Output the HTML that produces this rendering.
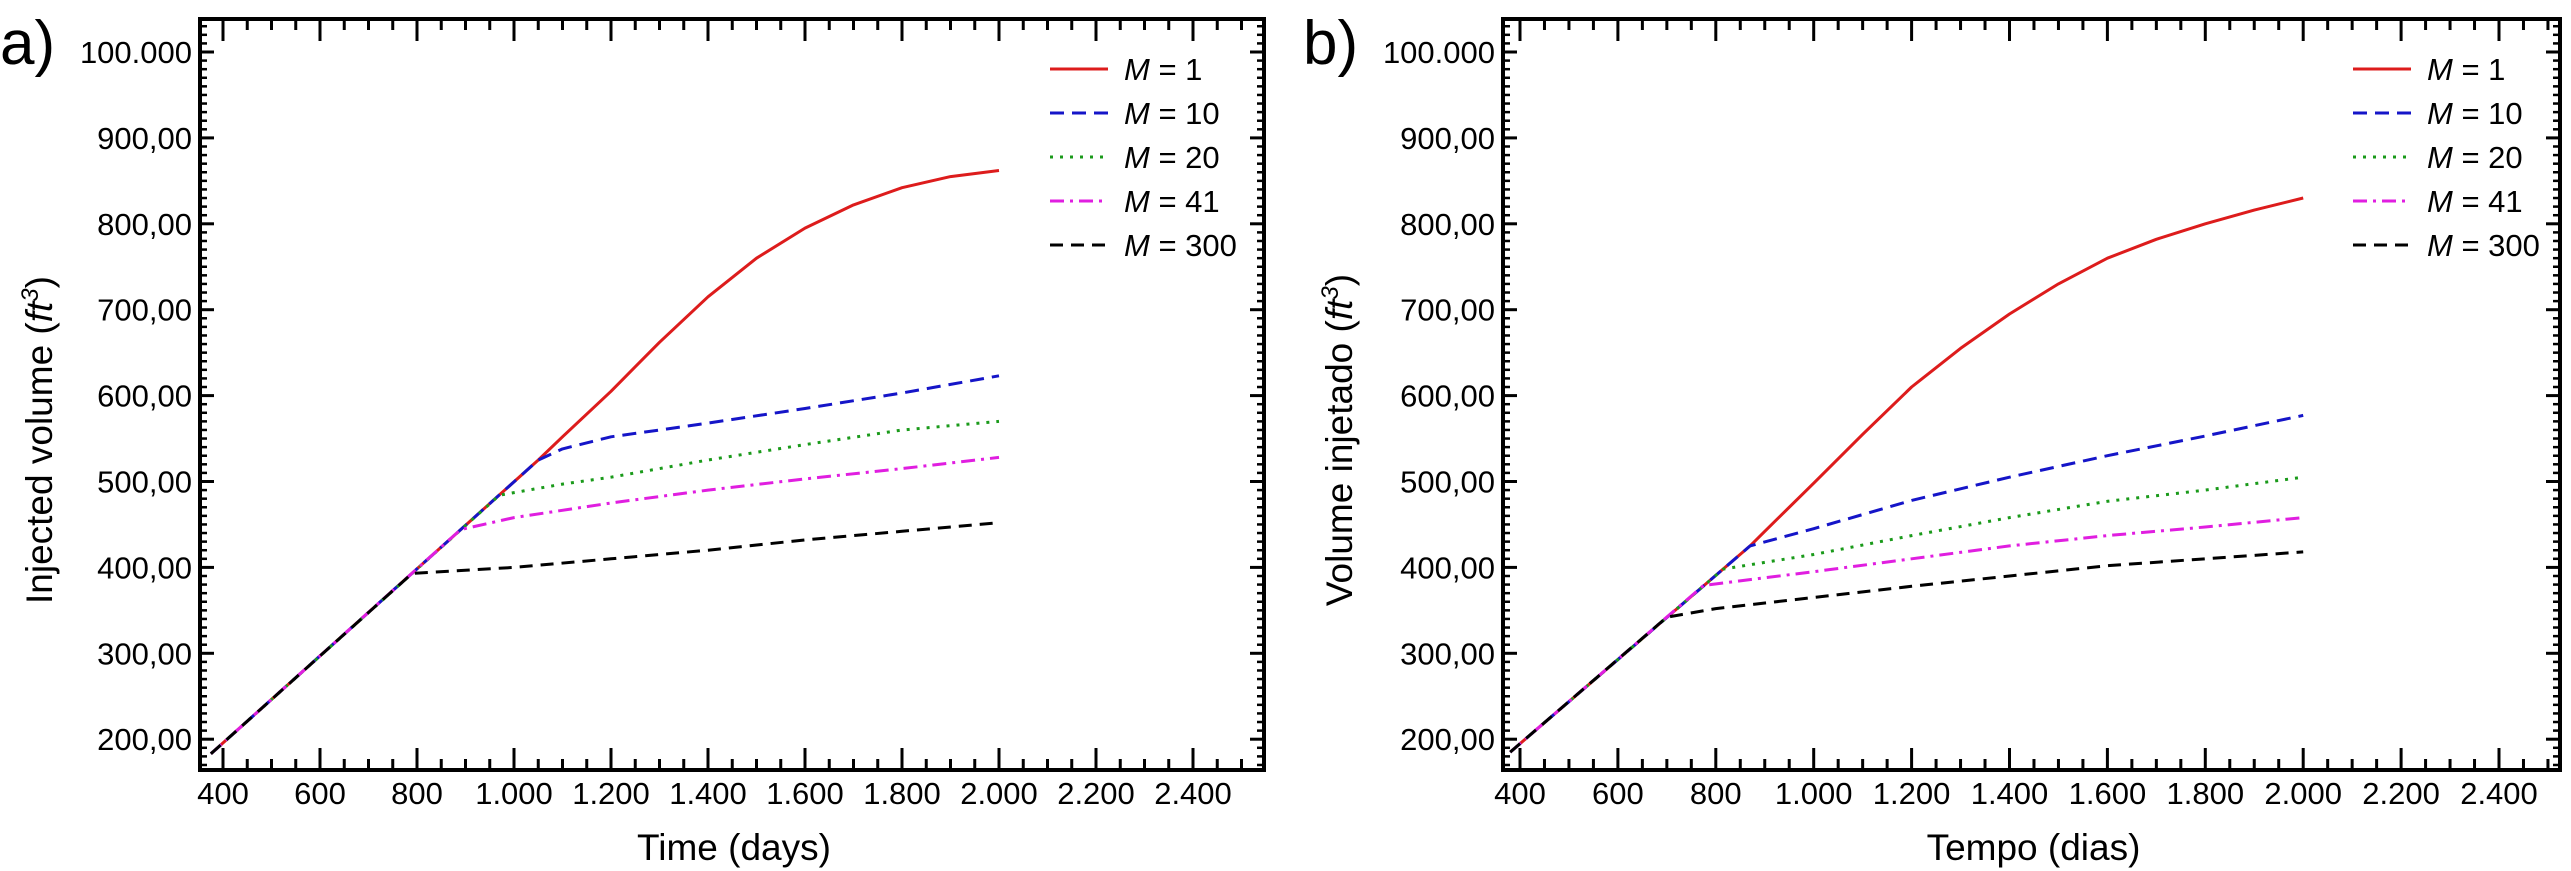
<!DOCTYPE html>
<html><head><meta charset="utf-8"><style>
html,body{margin:0;padding:0;background:#fff;}
svg{display:block;font-family:"Liberation Sans",sans-serif;}
</style></head><body>
<svg id="chart" width="2571" height="871" viewBox="0 0 2571 871" xmlns="http://www.w3.org/2000/svg"></svg>
<script>
const yTicks=[200,300,400,500,600,700,800,900,1000];
const yTickLabels=["200,00","300,00","400,00","500,00","600,00","700,00","800,00","900,00","100.000"];
const xTicks=[400,600,800,1000,1200,1400,1600,1800,2000,2200,2400];
const xTickLabels=["400","600","800","1.000","1.200","1.400","1.600","1.800","2.000","2.200","2.400"];
const seriesNames=["M = 1","M = 10","M = 20","M = 41","M = 300"];
// panel a
const aRedX=[375,1050,1100,1200,1300,1400,1500,1600,1700,1800,1900,2000];
const aRedY=[183,525,552,605,662,715,760,795,822,842,855,862];
const aBlueX=[375,1050,1100,1200,1300,1400,1600,1800,2000];
const aBlueY=[183,525,538,552,560,568,585,603,623];
const aGreenX=[375,970,1100,1200,1400,1600,1800,2000];
const aGreenY=[183,484,497,505,525,543,560,570];
const aMagX=[375,890,1000,1200,1400,1600,1800,2000];
const aMagY=[183,444,458,475,490,503,515,528];
const aBlackX=[375,790,1000,1200,1400,1600,1800,2000];
const aBlackY=[183,393,400,410,420,432,442,452];
// panel b
const bRedX=[380,870,900,1000,1100,1200,1300,1400,1500,1600,1700,1800,1900,2000];
const bRedY=[185,425,442,498,555,610,655,695,730,760,782,800,816,830];
const bBlueX=[380,870,1000,1200,1400,1600,1800,2000];
const bBlueY=[185,425,445,478,505,530,553,577];
const bGreenX=[380,815,1000,1200,1400,1600,1800,2000];
const bGreenY=[185,398,415,437,458,477,490,505];
const bMagX=[380,775,1000,1200,1400,1600,1800,2000];
const bMagY=[185,379,395,410,425,437,447,458];
const bBlackX=[380,700,800,1000,1200,1400,1600,1800,2000];
const bBlackY=[185,342,352,365,378,390,402,410,418];

const NS="http://www.w3.org/2000/svg";
const svg=document.getElementById('chart');
function mk(tag,attrs,parent){const e=document.createElementNS(NS,tag);for(const k in attrs)e.setAttribute(k,attrs[k]);(parent||svg).appendChild(e);return e;}
const styles=[
 {c:"#dd1c1c",d:""},
 {c:"#1515c8",d:"14,8"},
 {c:"#1a9a1a",d:"3,7"},
 {c:"#e01ee0",d:"14,6,3,6"},
 {c:"#000",d:"13,8"}];

function panel(cfg){
  const g=mk('g',{});
  
  
  const L=cfg.left,R=cfg.right,T=19,B=770;
  const x400=cfg.x400, pxPer=cfg.pxPer;
  const X=v=>x400+(v-400)*pxPer;
  const Y=v=>52+(1000-v)*0.859;
  const ticks=mk('g',{stroke:"#000"},g);
  
  
  for(let v=350;v<=2550;v+=50){const x=X(v);if(x<L+2||x>R-2)continue;const major=(v%200===0);const len=major?22:11;
    mk('line',{x1:x,x2:x,y1:B,y2:B-len,'stroke-width':3},ticks);
    mk('line',{x1:x,x2:x,y1:T,y2:T+len,'stroke-width':3},ticks);}
  for(let v=170;v<=1040;v+=10){const y=Y(v);if(y<T+2||y>B-2)continue;const major=(v%100===0);const len=major?14:7;
    mk('line',{x1:L,x2:L+len,y1:y,y2:y,'stroke-width':major?3:2.5},ticks);
    mk('line',{x1:R,x2:R-len,y1:y,y2:y,'stroke-width':major?3:2.5},ticks);}
  const frame=mk('rect',{x:L,y:T,width:R-L,height:B-T,fill:"none",stroke:"#000","stroke-width":4},g);
  
  
  yTicks.forEach((v,i)=>{const t=mk('text',{x:L-8,y:Y(v)+11,'text-anchor':'end','font-size':31},g);t.textContent=yTickLabels[i];
    
    });
  xTicks.forEach((v,i)=>{const t=mk('text',{x:X(v),y:804,'text-anchor':'middle','font-size':31},g);t.textContent=xTickLabels[i];
    
    });
  const xt=mk('text',{x:(L+R)/2+2,y:860,'text-anchor':'middle','font-size':37},g);xt.textContent=cfg.xTitle;
  
  
  const yt=mk('text',{x:0,y:0,'text-anchor':'middle','font-size':37,transform:`translate(${cfg.yTitleX},440) rotate(-90)`},g);
  
  
  yt.appendChild(document.createTextNode(cfg.yTitle+" ("));
  const it=mk('tspan',{'font-style':'italic'},yt);it.textContent="ft";
  const sp=mk('tspan',{'font-style':'italic','font-size':24,dy:-14},yt);sp.textContent="3";
  const cl=mk('tspan',{dy:14},yt);cl.textContent=")";
  const pl=mk('text',{x:cfg.labelX,y:64,'font-size':62},g);pl.textContent=cfg.label;
  
  
  cfg.series.forEach((s,i)=>{const st=styles[i];
    const pts=s[0].map((xv,j)=>X(xv).toFixed(1)+","+Y(s[1][j]).toFixed(1)).join(" ");
    const p=mk('polyline',{points:pts,fill:"none",stroke:st.c,'stroke-width':3,'stroke-dasharray':st.d,'stroke-linejoin':'round'},g);
    
    });
  const lg=mk('g',{},g);
  
  
  seriesNames.forEach((n,i)=>{const y=69+i*44;const st=styles[i];
    const e=mk('g',{},lg);
    
    
    mk('line',{x1:cfg.legX,x2:cfg.legX+58,y1:y,y2:y,stroke:st.c,'stroke-width':3,'stroke-dasharray':st.d},e);
    const t=mk('text',{x:cfg.legX+74,y:y+11,'font-size':31},e);
    const m=mk('tspan',{'font-style':'italic'},t);m.textContent="M";
    t.appendChild(document.createTextNode(" = "+n.split("= ")[1]));});
}
panel({name:'panel-a',left:200,right:1264,x400:223,pxPer:0.485,xTitle:"Time (days)",yTitle:"Injected volume",yTitleX:52,labelX:0,label:"a)",legX:1050,
  series:[[aRedX,aRedY],[aBlueX,aBlueY],[aGreenX,aGreenY],[aMagX,aMagY],[aBlackX,aBlackY]]});
panel({name:'panel-b',left:1503,right:2560,x400:1520,pxPer:0.4895,xTitle:"Tempo (dias)",yTitle:"Volume injetado",yTitleX:1352,labelX:1303,label:"b)",legX:2353,
  series:[[bRedX,bRedY],[bBlueX,bBlueY],[bGreenX,bGreenY],[bMagX,bMagY],[bBlackX,bBlackY]]});
</script>
</body></html>
